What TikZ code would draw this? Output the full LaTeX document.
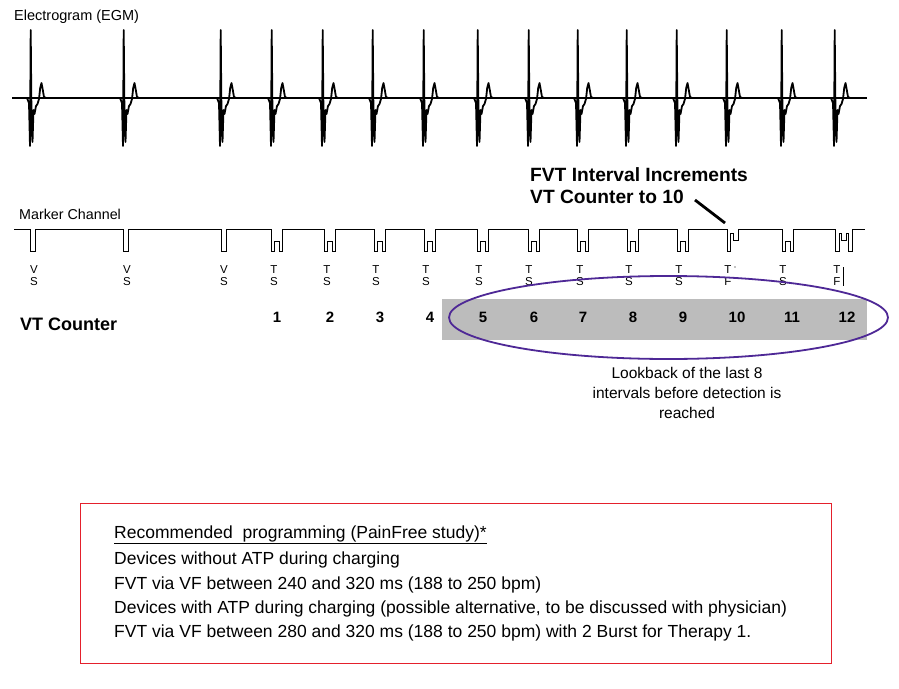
\documentclass[tikz,border=0pt]{standalone}
\usepackage{fontspec}
\setmainfont{Liberation Sans}
\usetikzlibrary{calc}
\definecolor{ellpurple}{RGB}{78,40,150}
\definecolor{boxred}{RGB}{228,32,44}
\definecolor{bandgray}{RGB}{188,188,188}
\newcommand\vsp[1]{-- (#1,229) -- (#1,251) -- (#1+5,251) -- (#1+5,229)}
\newcommand\tsp[1]{-- (#1,229) -- (#1,251) -- (#1+3,251) -- (#1+3,241) -- (#1+8,241) -- (#1+8,251) -- (#1+11,251) -- (#1+11,229)}
\newcommand\egmbeat[1]{(#1-4,98) -- (#1-2,103) -- (#1-1,146) -- (#1-0.3,30) -- (#1+0.6,128) -- (#1+1.5,142) -- (#1+2.5,110) -- (#1+3.5,114) -- (#1+5,106) -- (#1+6.5,104) -- (#1+8,99) -- (#1+9.2,88) -- (#1+10.5,83) -- (#1+11.8,90) -- (#1+13,97) -- (#1+15,98)}
\tikzset{
  egm/.style={line width=1.8pt, line join=round},
  mk/.style={line width=0.9pt},
  mlab/.style={font=\fontsize{11.5}{11.5}\selectfont, inner sep=0pt},
  cnt/.style={font=\bfseries\fontsize{15}{15}\selectfont, inner sep=0pt},
  lbl/.style={inner sep=0pt, anchor=west},
  boxtxt/.style={inner sep=0pt, anchor=west, font=\fontsize{17.5}{17.5}\selectfont}
}
\begin{document}
\begin{tikzpicture}[x=1pt,y=-1pt]
\useasboundingbox (0,0) rectangle (899,688);
\fill[white] (0,0) rectangle (899,688);
% titles
\node[lbl, font=\fontsize{14.5}{14.5}\selectfont] (egmtitle) at (14,17) {Electrogram (EGM)};
\node[lbl, font=\fontsize{14.3}{14.3}\selectfont] (mktitle) at (19,214) {Marker Channel};
% EGM trace
\draw[egm] (12,98) -- (867,98);
\foreach \b in {31,124,221,272,323,373,424,478,529,578,627,677,727,782,835}{
  \draw[egm] \egmbeat{\b};
}
% marker channel
\draw[mk] (14,229) \vsp{30} \vsp{123} \vsp{221}
  \tsp{271} \tsp{324} \tsp{374} \tsp{424} \tsp{477} \tsp{528} \tsp{577} \tsp{627} \tsp{677}
  -- (727,229) -- (727,251) -- (730,251) -- (730,233) -- (733,233) -- (733,240) -- (738,240) -- (738,229)
  \tsp{782}
  -- (835,229) -- (835,251) -- (839,251) -- (839,233) -- (841,233) -- (841,240) -- (846,240) -- (846,233) -- (848,233) -- (848,251) -- (852,251) -- (852,229)
  -- (865,229);
% marker labels
\foreach \x/\t/\s [count=\i] in {34/V/S,127/V/S,224/V/S,274/T/S,327/T/S,376/T/S,426/T/S,479/T/S,529/T/S,580/T/S,629/T/S,679/T/S,728/T/F,783/T/S,837/T/F}{
  \node[mlab] (mt\i) at (\x,270) {\t};
  \node[mlab] (ms\i) at (\x,282) {\s};
}
\fill (735,267) circle (0.6);
\draw[line width=1pt] (843,267) -- (843,286);
% shaded band
\fill[bandgray] (442,299) rectangle (867,340);
\node[lbl, font=\bfseries\fontsize{18}{18}\selectfont] (vtc) at (20,324) {VT Counter};
\foreach \x [count=\n] in {277,330,380,430,483,534,583,633,683,737,792,847}{
  \node[cnt] (c\n) at (\x,317) {\n};
}
\draw[ellpurple, line width=1.8pt] (668.5,317.5) ellipse [x radius=219.5, y radius=41.5];
\node[align=center, inner sep=0pt, font=\fontsize{15.5}{20}\selectfont] (look) at (687,393) {Lookback of the last 8\\intervals before detection is\\reached};
% FVT annotation
\node[lbl, font=\bfseries\fontsize{19.2}{22}\selectfont, align=left] (fvt) at (530,186) {FVT Interval Increments\\VT Counter to 10};
\coordinate (arrS) at (695,200);
\coordinate (arrE) at (725,223);
\draw[line width=2.8pt] (arrS) -- (arrE);
% box
\draw[boxred, line width=1pt] (80,503) rectangle (831,663);
\node[boxtxt] (l1) at (114,535) {\underline{Recommended\ \ programming (PainFree study)*}};
\node[boxtxt] (l2) at (114,560) {Devices without ATP during charging};
\node[boxtxt] (l3) at (114,585) {FVT via VF between 240 and 320 ms (188 to 250 bpm)};
\node[boxtxt] (l4) at (114,609) {Devices with ATP during charging (possible alternative, to be discussed with physician)};
\node[boxtxt] (l5) at (114,633) {FVT via VF between 280 and 320 ms (188 to 250 bpm) with 2 Burst for Therapy 1.};
\end{tikzpicture}
\end{document}
